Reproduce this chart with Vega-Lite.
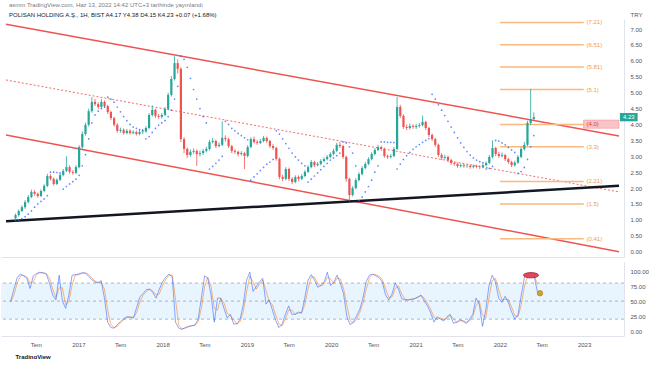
{
"$schema":"https://vega.github.io/schema/vega-lite/v6.json",
"background":"white",
"padding":{"left":0,"top":2,"right":0,"bottom":0},
"config":{"font":"Liberation Sans","view":{"stroke":null}},
"title":{"text":"asmm TradingView.com, Haz 13, 2022 14:42 UTC+3 tarihinde yayınlandı","subtitle":"POLISAN HOLDING A.Ş., 1H, BIST  A4.17  Y4.38  D4.15  K4.23  +0.07 (+1.68%)","anchor":"start","frame":"group","fontSize":6,"fontWeight":"normal","color":"#787b86","subtitleFontSize":6,"subtitleColor":"#131722","subtitlePadding":4,"offset":-7,"dx":8},
"datasets":{
"chan":[{"g":"up","d":"2016-02-01","p":7.15},{"g":"up","d":"2023-06-23","p":3.64},{"g":"lo","d":"2016-02-01","p":3.67},{"g":"lo","d":"2023-06-23","p":0.0}],
"mid":[{"d":"2016-02-01","p":5.40},{"d":"2023-06-23","p":1.88}],
"trend":[{"d":"2016-02-01","p":0.96},{"d":"2023-06-23","p":2.07}],
"fib":[{"p":7.21,"t":"(7.21)"},{"p":6.51,"t":"(6.51)"},{"p":5.81,"t":"(5.81)"},{"p":5.1,"t":"(5.1)"},{"p":4.0,"t":"(4.0)"},{"p":3.3,"t":"(3.3)"},{"p":2.21,"t":"(2.21)"},{"p":1.5,"t":"(1.5)"},{"p":0.41,"t":"(0.41)"}],
"c":[
{"d":"2016-03-14","o":1.05,"h":1.20,"l":1.00,"c":1.15,"sar":0.98,"k":50,"kd":48},
{"d":"2016-03-28","o":1.15,"h":1.33,"l":1.10,"c":1.28,"sar":1.00,"k":70,"kd":60},
{"d":"2016-04-11","o":1.28,"h":1.46,"l":1.24,"c":1.40,"sar":1.04,"k":89,"kd":80},
{"d":"2016-04-25","o":1.40,"h":1.62,"l":1.35,"c":1.56,"sar":1.10,"k":95,"kd":92},
{"d":"2016-05-09","o":1.56,"h":1.78,"l":1.52,"c":1.72,"sar":1.18,"k":92,"kd":93},
{"d":"2016-05-23","o":1.72,"h":1.95,"l":1.68,"c":1.88,"sar":1.28,"k":88,"kd":90},
{"d":"2016-06-06","o":1.88,"h":1.94,"l":1.76,"c":1.82,"sar":1.40,"k":71,"kd":80},
{"d":"2016-06-20","o":1.82,"h":1.86,"l":1.70,"c":1.75,"sar":1.50,"k":92,"kd":82},
{"d":"2016-07-04","o":1.75,"h":1.96,"l":1.72,"c":1.91,"sar":1.58,"k":96,"kd":94},
{"d":"2016-07-18","o":1.91,"h":2.12,"l":1.87,"c":2.07,"sar":1.66,"k":98,"kd":97},
{"d":"2016-08-01","o":2.07,"h":2.45,"l":2.03,"c":2.38,"sar":1.76,"k":97,"kd":97},
{"d":"2016-08-15","o":2.38,"h":2.44,"l":2.24,"c":2.29,"sar":2.50,"k":95,"kd":96},
{"d":"2016-08-29","o":2.29,"h":2.33,"l":2.08,"c":2.13,"sar":2.50,"k":80,"kd":88},
{"d":"2016-09-12","o":2.13,"h":2.31,"l":2.09,"c":2.26,"sar":2.49,"k":60,"kd":70},
{"d":"2016-09-26","o":2.26,"h":2.47,"l":2.22,"c":2.41,"sar":2.48,"k":52,"kd":56},
{"d":"2016-10-10","o":2.41,"h":2.60,"l":2.37,"c":2.54,"sar":1.97,"k":93,"kd":72},
{"d":"2016-10-24","o":2.54,"h":3.00,"l":2.50,"c":2.66,"sar":2.05,"k":50,"kd":72},
{"d":"2016-11-07","o":2.66,"h":2.72,"l":2.45,"c":2.51,"sar":2.13,"k":38,"kd":44},
{"d":"2016-11-21","o":2.51,"h":2.56,"l":2.42,"c":2.48,"sar":2.20,"k":60,"kd":49},
{"d":"2016-12-05","o":2.48,"h":2.72,"l":2.44,"c":2.66,"sar":2.28,"k":93,"kd":77},
{"d":"2016-12-19","o":2.66,"h":3.35,"l":2.62,"c":3.29,"sar":2.40,"k":94,"kd":93},
{"d":"2017-01-02","o":3.29,"h":3.78,"l":3.24,"c":3.70,"sar":2.70,"k":95,"kd":94},
{"d":"2017-01-16","o":3.70,"h":4.06,"l":3.65,"c":3.99,"sar":3.05,"k":97,"kd":96},
{"d":"2017-01-30","o":3.99,"h":4.50,"l":3.94,"c":4.42,"sar":3.55,"k":97,"kd":97},
{"d":"2017-02-13","o":4.42,"h":4.86,"l":4.37,"c":4.71,"sar":4.05,"k":92,"kd":95},
{"d":"2017-02-27","o":4.71,"h":4.80,"l":4.58,"c":4.64,"sar":4.30,"k":86,"kd":89},
{"d":"2017-03-13","o":4.64,"h":4.70,"l":4.48,"c":4.55,"sar":4.42,"k":82,"kd":84},
{"d":"2017-03-27","o":4.55,"h":4.80,"l":4.50,"c":4.71,"sar":4.50,"k":80,"kd":81},
{"d":"2017-04-10","o":4.71,"h":4.76,"l":4.52,"c":4.58,"sar":4.55,"k":84,"kd":82},
{"d":"2017-04-24","o":4.58,"h":4.62,"l":4.33,"c":4.39,"sar":4.86,"k":55,"kd":70},
{"d":"2017-05-08","o":4.39,"h":4.44,"l":4.14,"c":4.20,"sar":4.80,"k":15,"kd":35},
{"d":"2017-05-22","o":4.20,"h":4.24,"l":3.93,"c":3.99,"sar":4.70,"k":6,"kd":11},
{"d":"2017-06-05","o":3.99,"h":4.04,"l":3.74,"c":3.80,"sar":4.55,"k":5,"kd":6},
{"d":"2017-06-19","o":3.80,"h":3.90,"l":3.74,"c":3.83,"sar":4.40,"k":11,"kd":8},
{"d":"2017-07-03","o":3.83,"h":3.88,"l":3.68,"c":3.73,"sar":4.25,"k":16,"kd":14},
{"d":"2017-07-17","o":3.73,"h":3.86,"l":3.69,"c":3.80,"sar":4.12,"k":21,"kd":19},
{"d":"2017-07-31","o":3.80,"h":3.85,"l":3.68,"c":3.73,"sar":4.00,"k":24,"kd":23},
{"d":"2017-08-14","o":3.73,"h":3.82,"l":3.69,"c":3.76,"sar":3.92,"k":23,"kd":24},
{"d":"2017-08-28","o":3.76,"h":3.81,"l":3.65,"c":3.70,"sar":3.88,"k":22,"kd":23},
{"d":"2017-09-11","o":3.70,"h":3.82,"l":3.66,"c":3.76,"sar":3.84,"k":40,"kd":31},
{"d":"2017-09-25","o":3.76,"h":3.84,"l":3.70,"c":3.78,"sar":3.82,"k":57,"kd":49},
{"d":"2017-10-09","o":3.78,"h":3.95,"l":3.74,"c":3.89,"sar":3.55,"k":63,"kd":60},
{"d":"2017-10-23","o":3.89,"h":4.36,"l":3.85,"c":4.30,"sar":3.62,"k":69,"kd":66},
{"d":"2017-11-06","o":4.30,"h":4.60,"l":4.25,"c":4.46,"sar":3.75,"k":70,"kd":70},
{"d":"2017-11-20","o":4.46,"h":4.50,"l":4.20,"c":4.27,"sar":3.88,"k":64,"kd":67},
{"d":"2017-12-04","o":4.27,"h":4.33,"l":4.18,"c":4.24,"sar":3.98,"k":55,"kd":60},
{"d":"2017-12-18","o":4.24,"h":4.36,"l":4.19,"c":4.30,"sar":4.05,"k":70,"kd":62},
{"d":"2018-01-01","o":4.30,"h":4.55,"l":4.26,"c":4.49,"sar":4.12,"k":82,"kd":76},
{"d":"2018-01-15","o":4.49,"h":5.00,"l":4.45,"c":4.93,"sar":4.25,"k":90,"kd":86},
{"d":"2018-01-29","o":4.93,"h":5.52,"l":4.88,"c":5.43,"sar":4.45,"k":95,"kd":93},
{"d":"2018-02-12","o":5.43,"h":6.15,"l":5.38,"c":5.93,"sar":4.80,"k":90,"kd":93},
{"d":"2018-02-26","o":5.93,"h":6.05,"l":5.60,"c":5.75,"sar":5.20,"k":15,"kd":53},
{"d":"2018-03-12","o":5.75,"h":5.80,"l":3.45,"c":3.54,"sar":6.15,"k":5,"kd":10},
{"d":"2018-03-26","o":3.54,"h":3.60,"l":3.10,"c":3.23,"sar":6.05,"k":3,"kd":4},
{"d":"2018-04-09","o":3.23,"h":3.28,"l":2.95,"c":3.04,"sar":5.80,"k":6,"kd":5},
{"d":"2018-04-23","o":3.04,"h":3.22,"l":2.98,"c":3.14,"sar":5.45,"k":8,"kd":7},
{"d":"2018-05-07","o":3.14,"h":3.25,"l":3.08,"c":3.17,"sar":5.10,"k":9,"kd":9},
{"d":"2018-05-21","o":3.17,"h":3.22,"l":2.70,"c":3.07,"sar":4.80,"k":10,"kd":10},
{"d":"2018-06-04","o":3.07,"h":3.18,"l":3.00,"c":3.10,"sar":4.50,"k":20,"kd":15},
{"d":"2018-06-18","o":3.10,"h":3.23,"l":3.04,"c":3.17,"sar":4.25,"k":55,"kd":38},
{"d":"2018-07-02","o":3.17,"h":3.30,"l":3.12,"c":3.23,"sar":4.05,"k":92,"kd":74},
{"d":"2018-07-16","o":3.23,"h":3.52,"l":3.18,"c":3.45,"sar":2.60,"k":88,"kd":90},
{"d":"2018-07-30","o":3.45,"h":3.58,"l":3.40,"c":3.48,"sar":2.68,"k":60,"kd":74},
{"d":"2018-08-13","o":3.48,"h":3.52,"l":3.26,"c":3.32,"sar":2.78,"k":15,"kd":38},
{"d":"2018-08-27","o":3.32,"h":3.44,"l":3.28,"c":3.36,"sar":2.88,"k":55,"kd":35},
{"d":"2018-09-10","o":3.36,"h":4.10,"l":3.32,"c":3.58,"sar":3.00,"k":55,"kd":55},
{"d":"2018-09-24","o":3.58,"h":3.66,"l":3.46,"c":3.54,"sar":4.10,"k":38,"kd":47},
{"d":"2018-10-08","o":3.54,"h":3.58,"l":3.26,"c":3.32,"sar":4.00,"k":22,"kd":30},
{"d":"2018-10-22","o":3.32,"h":3.36,"l":3.10,"c":3.17,"sar":3.88,"k":28,"kd":25},
{"d":"2018-11-05","o":3.17,"h":3.22,"l":3.08,"c":3.14,"sar":3.80,"k":12,"kd":20},
{"d":"2018-11-19","o":3.14,"h":3.18,"l":3.00,"c":3.07,"sar":3.72,"k":12,"kd":12},
{"d":"2018-12-03","o":3.07,"h":3.16,"l":3.02,"c":3.10,"sar":3.65,"k":20,"kd":16},
{"d":"2018-12-17","o":3.10,"h":3.14,"l":2.60,"c":3.01,"sar":3.58,"k":45,"kd":33},
{"d":"2018-12-31","o":3.01,"h":3.35,"l":2.96,"c":3.29,"sar":3.52,"k":85,"kd":65},
{"d":"2019-01-14","o":3.29,"h":3.60,"l":3.25,"c":3.54,"sar":2.25,"k":98,"kd":92},
{"d":"2019-01-28","o":3.54,"h":3.62,"l":3.40,"c":3.45,"sar":2.35,"k":66,"kd":82},
{"d":"2019-02-11","o":3.45,"h":3.52,"l":3.36,"c":3.42,"sar":2.45,"k":74,"kd":70},
{"d":"2019-02-25","o":3.42,"h":3.55,"l":3.38,"c":3.48,"sar":2.55,"k":82,"kd":78},
{"d":"2019-03-11","o":3.48,"h":3.64,"l":3.44,"c":3.58,"sar":2.65,"k":88,"kd":85},
{"d":"2019-03-25","o":3.58,"h":3.62,"l":3.42,"c":3.48,"sar":2.75,"k":45,"kd":67},
{"d":"2019-04-08","o":3.48,"h":3.52,"l":3.26,"c":3.32,"sar":2.82,"k":52,"kd":49},
{"d":"2019-04-22","o":3.32,"h":3.38,"l":3.20,"c":3.26,"sar":2.90,"k":35,"kd":44},
{"d":"2019-05-06","o":3.26,"h":3.30,"l":2.86,"c":2.92,"sar":3.80,"k":18,"kd":27},
{"d":"2019-05-20","o":2.92,"h":2.96,"l":2.28,"c":2.35,"sar":3.70,"k":6,"kd":12},
{"d":"2019-06-03","o":2.35,"h":2.42,"l":2.22,"c":2.29,"sar":3.55,"k":12,"kd":9},
{"d":"2019-06-17","o":2.29,"h":2.66,"l":2.25,"c":2.60,"sar":3.40,"k":28,"kd":20},
{"d":"2019-07-01","o":2.60,"h":2.64,"l":2.22,"c":2.29,"sar":3.25,"k":42,"kd":35},
{"d":"2019-07-15","o":2.29,"h":2.34,"l":2.12,"c":2.19,"sar":3.10,"k":28,"kd":35},
{"d":"2019-07-29","o":2.19,"h":2.40,"l":2.15,"c":2.35,"sar":2.98,"k":28,"kd":28},
{"d":"2019-08-12","o":2.35,"h":2.40,"l":2.22,"c":2.29,"sar":2.88,"k":32,"kd":30},
{"d":"2019-08-26","o":2.29,"h":2.44,"l":2.25,"c":2.38,"sar":2.78,"k":30,"kd":31},
{"d":"2019-09-09","o":2.38,"h":2.57,"l":2.34,"c":2.51,"sar":2.70,"k":55,"kd":43},
{"d":"2019-09-23","o":2.51,"h":2.72,"l":2.47,"c":2.66,"sar":2.19,"k":85,"kd":70},
{"d":"2019-10-07","o":2.66,"h":2.88,"l":2.62,"c":2.82,"sar":2.28,"k":94,"kd":90},
{"d":"2019-10-21","o":2.82,"h":2.86,"l":2.66,"c":2.72,"sar":2.38,"k":85,"kd":90},
{"d":"2019-11-04","o":2.72,"h":2.82,"l":2.68,"c":2.76,"sar":2.48,"k":73,"kd":79},
{"d":"2019-11-18","o":2.76,"h":2.91,"l":2.72,"c":2.85,"sar":2.58,"k":76,"kd":75},
{"d":"2019-12-02","o":2.85,"h":2.97,"l":2.81,"c":2.91,"sar":2.68,"k":82,"kd":79},
{"d":"2019-12-16","o":2.91,"h":3.04,"l":2.87,"c":2.98,"sar":2.78,"k":98,"kd":90},
{"d":"2019-12-30","o":2.98,"h":3.13,"l":2.94,"c":3.07,"sar":2.88,"k":76,"kd":87},
{"d":"2020-01-13","o":3.07,"h":3.24,"l":3.03,"c":3.17,"sar":2.95,"k":82,"kd":79},
{"d":"2020-01-27","o":3.17,"h":3.42,"l":3.13,"c":3.36,"sar":3.02,"k":93,"kd":88},
{"d":"2020-02-10","o":3.36,"h":3.45,"l":3.26,"c":3.32,"sar":3.10,"k":80,"kd":87},
{"d":"2020-02-24","o":3.32,"h":3.36,"l":2.92,"c":2.98,"sar":3.45,"k":62,"kd":71},
{"d":"2020-03-09","o":2.98,"h":3.02,"l":2.20,"c":2.29,"sar":3.42,"k":25,"kd":44},
{"d":"2020-03-23","o":2.29,"h":2.33,"l":1.59,"c":1.78,"sar":3.30,"k":11,"kd":18},
{"d":"2020-04-06","o":1.78,"h":2.06,"l":1.74,"c":2.00,"sar":3.10,"k":15,"kd":13},
{"d":"2020-04-20","o":2.00,"h":2.31,"l":1.96,"c":2.25,"sar":2.70,"k":25,"kd":20},
{"d":"2020-05-04","o":2.25,"h":2.50,"l":2.21,"c":2.44,"sar":1.60,"k":36,"kd":31},
{"d":"2020-05-18","o":2.44,"h":2.69,"l":2.40,"c":2.63,"sar":1.72,"k":55,"kd":46},
{"d":"2020-06-01","o":2.63,"h":2.82,"l":2.59,"c":2.76,"sar":1.88,"k":82,"kd":69},
{"d":"2020-06-15","o":2.76,"h":2.97,"l":2.72,"c":2.91,"sar":2.05,"k":93,"kd":88},
{"d":"2020-06-29","o":2.91,"h":3.13,"l":2.87,"c":3.07,"sar":2.25,"k":95,"kd":94},
{"d":"2020-07-13","o":3.07,"h":3.26,"l":3.03,"c":3.20,"sar":2.50,"k":92,"kd":94},
{"d":"2020-07-27","o":3.20,"h":3.36,"l":3.16,"c":3.29,"sar":2.70,"k":89,"kd":91},
{"d":"2020-08-10","o":3.29,"h":3.34,"l":3.17,"c":3.23,"sar":3.45,"k":82,"kd":86},
{"d":"2020-08-24","o":3.23,"h":3.27,"l":2.95,"c":3.01,"sar":3.45,"k":60,"kd":71},
{"d":"2020-09-07","o":3.01,"h":3.06,"l":2.92,"c":2.98,"sar":3.44,"k":52,"kd":56},
{"d":"2020-09-21","o":2.98,"h":3.07,"l":2.93,"c":3.01,"sar":3.44,"k":62,"kd":57},
{"d":"2020-10-05","o":3.01,"h":3.29,"l":2.97,"c":3.23,"sar":3.43,"k":80,"kd":71},
{"d":"2020-10-19","o":3.23,"h":4.86,"l":3.19,"c":4.55,"sar":2.60,"k":70,"kd":75},
{"d":"2020-11-02","o":4.55,"h":4.62,"l":4.20,"c":4.27,"sar":2.75,"k":54,"kd":62},
{"d":"2020-11-16","o":4.27,"h":4.32,"l":3.86,"c":3.92,"sar":2.90,"k":52,"kd":53},
{"d":"2020-11-30","o":3.92,"h":4.00,"l":3.82,"c":3.89,"sar":3.02,"k":52,"kd":52},
{"d":"2020-12-14","o":3.89,"h":4.03,"l":3.84,"c":3.95,"sar":3.12,"k":53,"kd":53},
{"d":"2020-12-28","o":3.95,"h":4.01,"l":3.86,"c":3.92,"sar":3.22,"k":54,"kd":54},
{"d":"2021-01-11","o":3.92,"h":4.02,"l":3.86,"c":3.95,"sar":3.30,"k":57,"kd":56},
{"d":"2021-01-25","o":3.95,"h":4.05,"l":3.90,"c":3.98,"sar":3.37,"k":60,"kd":59},
{"d":"2021-02-08","o":3.98,"h":4.28,"l":3.94,"c":4.08,"sar":3.44,"k":50,"kd":55},
{"d":"2021-02-22","o":4.08,"h":4.12,"l":3.83,"c":3.89,"sar":3.50,"k":42,"kd":46},
{"d":"2021-03-08","o":3.89,"h":3.93,"l":3.60,"c":3.67,"sar":3.55,"k":30,"kd":36},
{"d":"2021-03-22","o":3.67,"h":3.72,"l":3.48,"c":3.54,"sar":4.95,"k":15,"kd":23},
{"d":"2021-04-05","o":3.54,"h":3.58,"l":3.30,"c":3.36,"sar":4.80,"k":24,"kd":20},
{"d":"2021-04-19","o":3.36,"h":3.40,"l":2.98,"c":3.04,"sar":4.62,"k":20,"kd":22},
{"d":"2021-05-03","o":3.04,"h":3.10,"l":2.88,"c":2.95,"sar":4.45,"k":17,"kd":19},
{"d":"2021-05-17","o":2.95,"h":3.05,"l":2.90,"c":2.98,"sar":4.28,"k":24,"kd":21},
{"d":"2021-05-31","o":2.98,"h":3.02,"l":2.82,"c":2.88,"sar":4.10,"k":28,"kd":26},
{"d":"2021-06-14","o":2.88,"h":2.92,"l":2.73,"c":2.79,"sar":3.92,"k":13,"kd":21},
{"d":"2021-06-28","o":2.79,"h":2.83,"l":2.70,"c":2.76,"sar":3.75,"k":15,"kd":14},
{"d":"2021-07-12","o":2.76,"h":2.80,"l":2.64,"c":2.69,"sar":3.58,"k":19,"kd":17},
{"d":"2021-07-26","o":2.69,"h":2.78,"l":2.65,"c":2.72,"sar":3.42,"k":16,"kd":18},
{"d":"2021-08-09","o":2.72,"h":2.76,"l":2.64,"c":2.69,"sar":3.28,"k":13,"kd":15},
{"d":"2021-08-23","o":2.69,"h":2.75,"l":2.64,"c":2.70,"sar":3.15,"k":20,"kd":17},
{"d":"2021-09-06","o":2.70,"h":2.74,"l":2.61,"c":2.66,"sar":3.04,"k":28,"kd":24},
{"d":"2021-09-20","o":2.66,"h":2.74,"l":2.62,"c":2.69,"sar":2.95,"k":55,"kd":42},
{"d":"2021-10-04","o":2.69,"h":2.74,"l":2.62,"c":2.67,"sar":2.88,"k":45,"kd":50},
{"d":"2021-10-18","o":2.67,"h":2.72,"l":2.60,"c":2.66,"sar":2.83,"k":8,"kd":27},
{"d":"2021-11-01","o":2.66,"h":2.77,"l":2.62,"c":2.72,"sar":2.80,"k":35,"kd":22},
{"d":"2021-11-15","o":2.72,"h":2.84,"l":2.68,"c":2.79,"sar":2.60,"k":75,"kd":55},
{"d":"2021-11-29","o":2.79,"h":3.04,"l":2.75,"c":2.98,"sar":2.62,"k":93,"kd":84},
{"d":"2021-12-13","o":2.98,"h":3.50,"l":2.94,"c":3.26,"sar":2.68,"k":82,"kd":88},
{"d":"2021-12-27","o":3.26,"h":3.30,"l":3.00,"c":3.07,"sar":3.50,"k":55,"kd":69},
{"d":"2022-01-10","o":3.07,"h":3.14,"l":2.95,"c":3.01,"sar":3.48,"k":48,"kd":52},
{"d":"2022-01-24","o":3.01,"h":3.12,"l":2.96,"c":3.04,"sar":3.42,"k":58,"kd":53},
{"d":"2022-02-07","o":3.04,"h":3.08,"l":2.85,"c":2.91,"sar":3.36,"k":48,"kd":53},
{"d":"2022-02-21","o":2.91,"h":2.95,"l":2.76,"c":2.82,"sar":3.28,"k":32,"kd":40},
{"d":"2022-03-07","o":2.82,"h":2.86,"l":2.66,"c":2.72,"sar":3.20,"k":20,"kd":26},
{"d":"2022-03-21","o":2.72,"h":2.86,"l":2.68,"c":2.80,"sar":3.12,"k":28,"kd":24},
{"d":"2022-04-04","o":2.80,"h":3.04,"l":2.76,"c":2.98,"sar":2.46,"k":60,"kd":44},
{"d":"2022-04-18","o":2.98,"h":3.29,"l":2.94,"c":3.23,"sar":2.52,"k":90,"kd":75},
{"d":"2022-05-02","o":3.23,"h":3.45,"l":3.18,"c":3.36,"sar":2.65,"k":93,"kd":92},
{"d":"2022-05-16","o":3.36,"h":4.12,"l":3.32,"c":4.05,"sar":2.90,"k":93,"kd":93},
{"d":"2022-05-30","o":4.05,"h":5.12,"l":3.98,"c":4.17,"sar":3.30,"k":91,"kd":92},
{"d":"2022-06-13","o":4.17,"h":4.38,"l":4.15,"c":4.23,"sar":3.65,"k":65,"kd":78}
]},
"spacing":5,
"resolve":{"scale":{"x":"independent","y":"independent"}},
"vconcat":[
{"width":623,"height":238,"layer":[
{"data":{"name":"chan"},"mark":{"type":"line","color":"#ef5350","strokeWidth":1.5},
 "encoding":{"x":{"field":"d","type":"temporal","scale":{"domain":[{"year":2016,"month":2,"date":1,"utc":true},{"year":2023,"month":6,"date":23,"utc":true}]},"axis":{"labels":false,"ticks":false,"grid":false,"title":null,"domainColor":"#e0e3eb"}},
 "y":{"field":"p","type":"quantitative","scale":{"domain":[-0.167,7.317],"nice":false,"zero":false},"axis":{"orient":"right","values":[0,0.5,1,1.5,2,2.5,3,3.5,4,4.5,5,5.5,6,6.5,7],"tickCount":30,"format":".2f","labelOverlap":false,"ticks":false,"grid":false,"domainColor":"#e0e3eb","labelColor":"#50535e","labelFontSize":6,"labelPadding":6,"title":"TRY","titleAngle":0,"titleAlign":"left","titleBaseline":"bottom","titleX":6,"titleY":-2,"titleFontSize":6,"titleFontWeight":"normal","titleColor":"#50535e"}},
 "detail":{"field":"g"}}},
{"data":{"name":"mid"},"mark":{"type":"line","color":"#ef5350","strokeWidth":1,"strokeDash":[2,2],"opacity":0.85},
 "encoding":{"x":{"field":"d","type":"temporal"},"y":{"field":"p","type":"quantitative"}}},
{"data":{"name":"trend"},"mark":{"type":"line","color":"#131722","strokeWidth":2.5},
 "encoding":{"x":{"field":"d","type":"temporal"},"y":{"field":"p","type":"quantitative"}}},
{"data":{"name":"fib"},"mark":{"type":"rule","color":"#f9b97f","strokeWidth":1.5},
 "encoding":{"x":{"datum":{"year":2022,"month":1,"date":15,"utc":true},"type":"temporal"},"x2":{"datum":{"year":2023,"month":1,"date":19,"utc":true}},"y":{"field":"p","type":"quantitative"}}},
{"data":{"name":"fib"},"transform":[{"filter":"datum.p != 4"}],"mark":{"type":"text","align":"left","baseline":"middle","fontSize":6,"color":"#f2994a"},
 "encoding":{"x":{"datum":{"year":2023,"month":1,"date":31,"utc":true},"type":"temporal"},"y":{"field":"p","type":"quantitative"},"text":{"field":"t"}}},
{"data":{"values":[{}]},"mark":{"type":"rect","fill":"#f8c4c6","stroke":"#f28b90","strokeWidth":0.5},
 "encoding":{"x":{"datum":{"year":2023,"month":1,"date":18,"utc":true},"type":"temporal"},"x2":{"datum":{"year":2023,"month":6,"date":23,"utc":true}},"y":{"datum":3.88,"type":"quantitative"},"y2":{"datum":4.14}}},
{"data":{"values":[{}]},"mark":{"type":"text","align":"left","baseline":"middle","fontSize":6,"color":"#e53935"},
 "encoding":{"x":{"datum":{"year":2023,"month":1,"date":31,"utc":true},"type":"temporal"},"y":{"datum":4.01,"type":"quantitative"},"text":{"value":"(4.0)"}}},
{"data":{"name":"c"},"mark":{"type":"rule","strokeWidth":0.8},
 "encoding":{"x":{"field":"d","type":"temporal"},"y":{"field":"l","type":"quantitative"},"y2":{"field":"h"},"color":{"condition":{"test":"datum.c >= datum.o","value":"#26a69a"},"value":"#ef5350"}}},
{"data":{"name":"c"},"mark":{"type":"bar","size":2.2},
 "encoding":{"x":{"field":"d","type":"temporal"},"y":{"field":"o","type":"quantitative"},"y2":{"field":"c"},"color":{"condition":{"test":"datum.c >= datum.o","value":"#26a69a"},"value":"#ef5350"}}},
{"data":{"name":"c"},"mark":{"type":"circle","size":3,"color":"#2962ff","opacity":0.75},
 "encoding":{"x":{"field":"d","type":"temporal"},"y":{"field":"sar","type":"quantitative"}}},
{"data":{"values":[{}]},"mark":{"type":"rect","fill":"#26a69a"},
 "encoding":{"x":{"datum":{"year":2023,"month":6,"date":27,"utc":true},"type":"temporal"},"x2":{"datum":{"year":2023,"month":9,"date":13,"utc":true}},"y":{"datum":4.10,"type":"quantitative"},"y2":{"datum":4.36}}},
{"data":{"values":[{}]},"mark":{"type":"text","align":"center","baseline":"middle","fontSize":6,"color":"white"},
 "encoding":{"x":{"datum":{"year":2023,"month":8,"date":5,"utc":true},"type":"temporal"},"y":{"datum":4.23,"type":"quantitative"},"text":{"value":"4.23"}}}
]},
{"width":623,"height":74,"layer":[
{"data":{"values":[{"lo":20,"hi":80}]},"mark":{"type":"rect","color":"#2196f3","opacity":0.1},
 "encoding":{"x":{"datum":{"year":2016,"month":2,"date":1,"utc":true},"type":"temporal","scale":{"domain":[{"year":2016,"month":2,"date":1,"utc":true},{"year":2023,"month":6,"date":23,"utc":true}]},
  "axis":{"values":[{"year":2016,"month":7,"date":1,"utc":true},{"year":2017,"month":1,"date":1,"utc":true},{"year":2017,"month":7,"date":1,"utc":true},{"year":2018,"month":1,"date":1,"utc":true},{"year":2018,"month":7,"date":1,"utc":true},{"year":2019,"month":1,"date":1,"utc":true},{"year":2019,"month":7,"date":1,"utc":true},{"year":2020,"month":1,"date":1,"utc":true},{"year":2020,"month":7,"date":1,"utc":true},{"year":2021,"month":1,"date":1,"utc":true},{"year":2021,"month":7,"date":1,"utc":true},{"year":2022,"month":1,"date":1,"utc":true},{"year":2022,"month":7,"date":1,"utc":true},{"year":2023,"month":1,"date":1,"utc":true}],
  "tickCount":30,"labelExpr":"utcmonth(datum.value) == 6 ? 'Tem' : utcFormat(datum.value, '%Y')","labelOverlap":false,"ticks":false,"grid":false,"domainColor":"#e0e3eb","labelColor":"#50535e","labelFontSize":6,"labelPadding":5,
  "title":"TradingView","titleAnchor":"start","titleAlign":"left","titleBaseline":"middle","titleX":14,"titleY":20,"titleFontSize":6,"titleFontWeight":"bold","titleColor":"#131722"}},
 "x2":{"datum":{"year":2023,"month":6,"date":23,"utc":true}},
 "y":{"field":"lo","type":"quantitative","scale":{"domain":[-8,115],"nice":false,"zero":false},"axis":{"orient":"right","values":[0,25,50,75,100],"tickCount":10,"format":".2f","labelOverlap":false,"ticks":false,"grid":false,"domainColor":"#e0e3eb","labelColor":"#50535e","labelFontSize":6,"labelPadding":6,"title":null}},
 "y2":{"field":"hi"}}},
{"data":{"values":[{"v":80},{"v":50},{"v":20}]},"mark":{"type":"rule","color":"#9598a1","strokeDash":[3,3],"strokeWidth":0.7},
 "encoding":{"y":{"field":"v","type":"quantitative"}}},
{"data":{"name":"c"},"mark":{"type":"line","color":"#ff6d00","strokeWidth":1,"opacity":0.5},
 "encoding":{"x":{"field":"d","type":"temporal"},"y":{"field":"kd","type":"quantitative"}}},
{"data":{"name":"c"},"mark":{"type":"line","color":"#2962ff","strokeWidth":1,"opacity":0.55},
 "encoding":{"x":{"field":"d","type":"temporal"},"y":{"field":"k","type":"quantitative"}}},
{"data":{"values":[{}]},"mark":{"type":"point","shape":"M-1,0A1,0.35 0 1,0 1,0A1,0.35 0 1,0 -1,0Z","filled":true,"fill":"#e0485c","stroke":"#a3203a","strokeWidth":0.8,"size":225,"opacity":1},
 "encoding":{"x":{"datum":{"year":2022,"month":5,"date":16,"utc":true},"type":"temporal"},"y":{"datum":93,"type":"quantitative"}}},
{"data":{"values":[{}]},"mark":{"type":"circle","fill":"#cfa52a","stroke":"#9b7a17","strokeWidth":0.6,"size":30,"opacity":1},
 "encoding":{"x":{"datum":{"year":2022,"month":6,"date":24,"utc":true},"type":"temporal"},"y":{"datum":63,"type":"quantitative"}}}
]}
]
}
